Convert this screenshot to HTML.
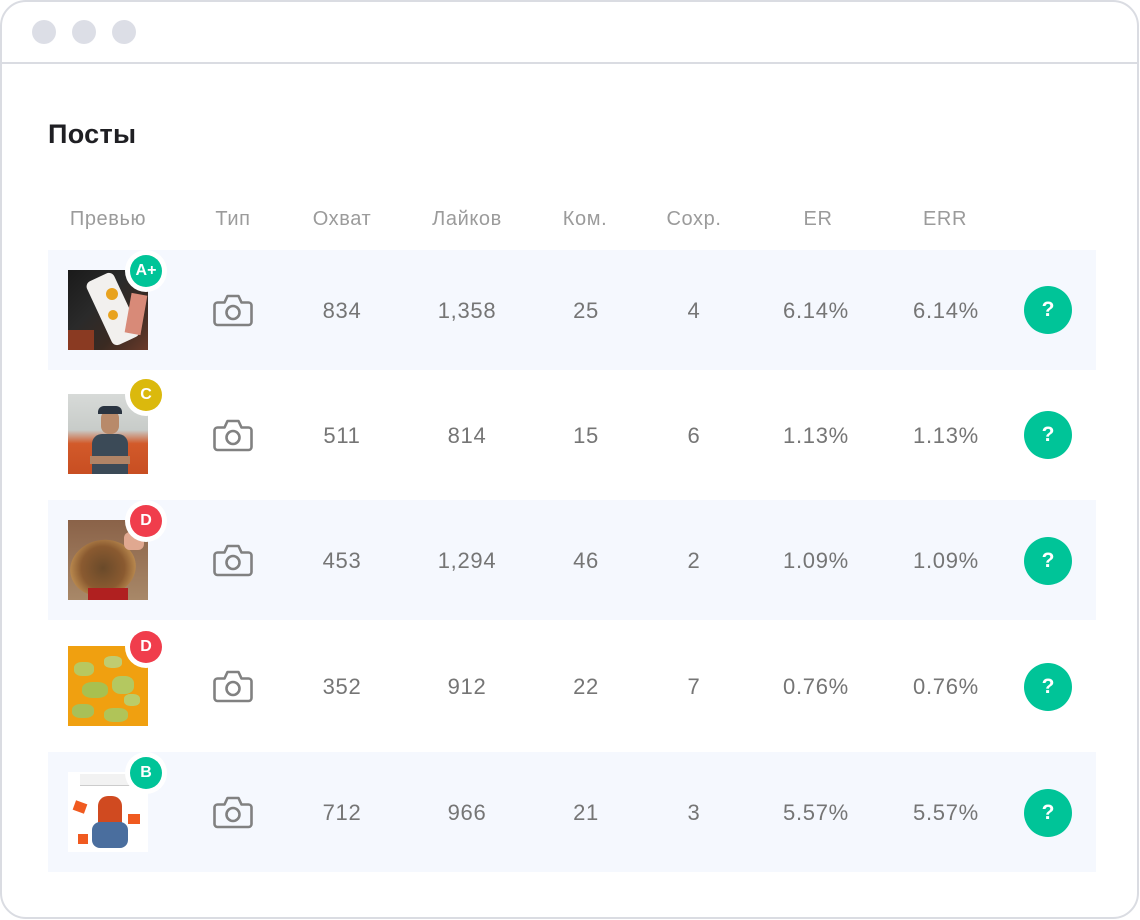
<!DOCTYPE html>
<html><head><meta charset="utf-8">
<style>
*{margin:0;padding:0;box-sizing:border-box}
html,body{width:1140px;height:920px;background:#fff;overflow:hidden}
body{position:relative;font-family:"Liberation Sans","DejaVu Sans",sans-serif}
.win{position:absolute;left:0;top:0;width:1139px;height:919px;border:2px solid #dadce2;border-radius:26px;background:#fff}
.bar{position:absolute;left:1px;top:62px;width:1137px;height:2px;background:#dadce2}
.dot{position:absolute;top:20px;width:24px;height:24px;border-radius:50%;background:#dcdee6}
.title{position:absolute;left:48px;top:116px;font-size:27px;font-weight:bold;color:#1f1f23;line-height:36px;letter-spacing:0.3px}
.h{position:absolute;top:207px;font-size:20px;color:#9b9b9b;line-height:24px;transform:translateX(-50%);white-space:nowrap;letter-spacing:0.6px}
.row{position:absolute;left:48px;width:1048px;background:#f5f8fe}
.t{position:absolute;font-size:22px;color:#757575;line-height:26px;transform:translate(-50%,-50%);white-space:nowrap;letter-spacing:0.7px}
.thumb{position:absolute;left:68px;width:80px;height:80px;overflow:hidden}
.badge{position:absolute;width:42px;height:42px;border-radius:50%;background:#fff;transform:translate(-50%,-50%)}
.badge span{position:absolute;left:5px;top:5px;width:32px;height:32px;border-radius:50%;color:#fff;font-weight:bold;font-size:16px;line-height:32px;text-align:center}
.cam{position:absolute;left:213px;width:40px;height:34px}
.q{position:absolute;left:1024px;width:48px;height:48px;border-radius:50%;background:#00c498;color:#fff;font-weight:bold;font-size:21px;line-height:48px;text-align:center}
</style></head><body>
<div class="win"></div>
<div class="bar"></div>
<div class="dot" style="left:32px"></div>
<div class="dot" style="left:72px"></div>
<div class="dot" style="left:112px"></div>
<div class="title">Посты</div>

<div class="h" style="left:108px">Превью</div>
<div class="h" style="left:233px">Тип</div>
<div class="h" style="left:342px">Охват</div>
<div class="h" style="left:467px">Лайков</div>
<div class="h" style="left:585px">Ком.</div>
<div class="h" style="left:694px">Сохр.</div>
<div class="h" style="left:818px">ER</div>
<div class="h" style="left:945px">ERR</div>

<div class="row" style="top:250px;height:120px"></div>
<div class="row" style="top:500px;height:120px"></div>
<div class="row" style="top:752px;height:120px"></div>

<!-- thumbnails -->
<div class="thumb" style="top:270px;background:linear-gradient(135deg,#1a1a1a 0%,#2a2a2a 40%,#3a2a22 70%,#6a3a2a 100%)">
  <div style="position:absolute;left:30px;top:4px;width:30px;height:70px;background:#f2f0ee;transform:rotate(-25deg);border-radius:6px"></div>
  <div style="position:absolute;left:38px;top:18px;width:12px;height:12px;background:#e8a21e;border-radius:50%"></div>
  <div style="position:absolute;left:40px;top:40px;width:10px;height:10px;background:#e8a21e;border-radius:50%"></div>
  <div style="position:absolute;left:60px;top:24px;width:16px;height:40px;background:#d88a78;transform:rotate(10deg)"></div>
  <div style="position:absolute;left:0;top:60px;width:26px;height:20px;background:#8a3a22"></div>
</div>
<div class="thumb" style="top:394px;background:linear-gradient(180deg,#d7dad8 0%,#c8ccc9 45%,#d25a2a 62%,#c84e22 100%)">
  <div style="position:absolute;left:24px;top:40px;width:36px;height:40px;background:#3b4a57;border-radius:10px 10px 0 0"></div>
  <div style="position:absolute;left:33px;top:16px;width:18px;height:24px;background:#b88a6a;border-radius:8px"></div>
  <div style="position:absolute;left:30px;top:12px;width:24px;height:8px;background:#2a3440;border-radius:6px 6px 0 0"></div>
  <div style="position:absolute;left:22px;top:62px;width:40px;height:8px;background:#b08466"></div>
</div>
<div class="thumb" style="top:520px;background:linear-gradient(180deg,#8a6248 0%,#a88868 100%)">
  <div style="position:absolute;left:2px;top:20px;width:66px;height:56px;border-radius:50%;background:radial-gradient(circle,#6a4a2a 0%,#8a5a30 50%,#c89858 85%,#d8b070 100%);transform:rotate(-12deg)"></div>
  <div style="position:absolute;left:56px;top:12px;width:20px;height:18px;background:#e0a890;border-radius:6px"></div>
  <div style="position:absolute;left:20px;top:68px;width:40px;height:12px;background:#b02020"></div>
</div>
<div class="thumb" style="top:646px;background:#f0a010">
  <div style="position:absolute;left:6px;top:16px;width:20px;height:14px;background:#b8c860;border-radius:40%"></div>
  <div style="position:absolute;left:36px;top:10px;width:18px;height:12px;background:#c0cc70;border-radius:40%"></div>
  <div style="position:absolute;left:14px;top:36px;width:26px;height:16px;background:#a8c050;border-radius:40%"></div>
  <div style="position:absolute;left:44px;top:30px;width:22px;height:18px;background:#b4c860;border-radius:40%"></div>
  <div style="position:absolute;left:4px;top:58px;width:22px;height:14px;background:#a8c058;border-radius:40%"></div>
  <div style="position:absolute;left:36px;top:62px;width:24px;height:14px;background:#b0c458;border-radius:40%"></div>
  <div style="position:absolute;left:56px;top:48px;width:16px;height:12px;background:#bccc68;border-radius:40%"></div>
</div>
<div class="thumb" style="top:772px;background:#fff">
  <div style="position:absolute;left:12px;top:2px;width:56px;height:12px;background:#f2f2f2;border-bottom:1px solid #ccc"></div>
  <div style="position:absolute;left:30px;top:24px;width:24px;height:30px;background:#d04a20;border-radius:10px 10px 4px 4px"></div>
  <div style="position:absolute;left:24px;top:50px;width:36px;height:26px;background:#4a6e9e;border-radius:8px"></div>
  <div style="position:absolute;left:6px;top:30px;width:12px;height:10px;background:#f05a20;transform:rotate(20deg)"></div>
  <div style="position:absolute;left:60px;top:42px;width:12px;height:10px;background:#f05a20"></div>
  <div style="position:absolute;left:10px;top:62px;width:10px;height:10px;background:#f05a20"></div>
</div>

<!-- badges -->
<div class="badge" style="left:146px;top:271px"><span style="background:#00c498">A+</span></div>
<div class="badge" style="left:146px;top:395px"><span style="background:#dbb90d">C</span></div>
<div class="badge" style="left:146px;top:521px"><span style="background:#f03d4c">D</span></div>
<div class="badge" style="left:146px;top:647px"><span style="background:#f03d4c">D</span></div>
<div class="badge" style="left:146px;top:773px"><span style="background:#00c498">B</span></div>

<!-- cameras -->
<svg class="cam" style="top:293px" viewBox="0 0 40 34"><path d="M4.5 9.5h7l3-6.5h11l3 6.5h7a3 3 0 0 1 3 3v16.5a3 3 0 0 1-3 3h-31a3 3 0 0 1-3-3v-16.5a3 3 0 0 1 3-3z" fill="none" stroke="#818181" stroke-width="2.6" stroke-linejoin="round"/><circle cx="20" cy="19.5" r="6.5" fill="none" stroke="#818181" stroke-width="2.6"/></svg>
<svg class="cam" style="top:418px" viewBox="0 0 40 34"><path d="M4.5 9.5h7l3-6.5h11l3 6.5h7a3 3 0 0 1 3 3v16.5a3 3 0 0 1-3 3h-31a3 3 0 0 1-3-3v-16.5a3 3 0 0 1 3-3z" fill="none" stroke="#818181" stroke-width="2.6" stroke-linejoin="round"/><circle cx="20" cy="19.5" r="6.5" fill="none" stroke="#818181" stroke-width="2.6"/></svg>
<svg class="cam" style="top:543px" viewBox="0 0 40 34"><path d="M4.5 9.5h7l3-6.5h11l3 6.5h7a3 3 0 0 1 3 3v16.5a3 3 0 0 1-3 3h-31a3 3 0 0 1-3-3v-16.5a3 3 0 0 1 3-3z" fill="none" stroke="#818181" stroke-width="2.6" stroke-linejoin="round"/><circle cx="20" cy="19.5" r="6.5" fill="none" stroke="#818181" stroke-width="2.6"/></svg>
<svg class="cam" style="top:669px" viewBox="0 0 40 34"><path d="M4.5 9.5h7l3-6.5h11l3 6.5h7a3 3 0 0 1 3 3v16.5a3 3 0 0 1-3 3h-31a3 3 0 0 1-3-3v-16.5a3 3 0 0 1 3-3z" fill="none" stroke="#818181" stroke-width="2.6" stroke-linejoin="round"/><circle cx="20" cy="19.5" r="6.5" fill="none" stroke="#818181" stroke-width="2.6"/></svg>
<svg class="cam" style="top:795px" viewBox="0 0 40 34"><path d="M4.5 9.5h7l3-6.5h11l3 6.5h7a3 3 0 0 1 3 3v16.5a3 3 0 0 1-3 3h-31a3 3 0 0 1-3-3v-16.5a3 3 0 0 1 3-3z" fill="none" stroke="#818181" stroke-width="2.6" stroke-linejoin="round"/><circle cx="20" cy="19.5" r="6.5" fill="none" stroke="#818181" stroke-width="2.6"/></svg>

<!-- row 1 -->
<div class="t" style="left:342px;top:311px">834</div>
<div class="t" style="left:467px;top:311px">1,358</div>
<div class="t" style="left:586px;top:311px">25</div>
<div class="t" style="left:694px;top:311px">4</div>
<div class="t" style="left:816px;top:311px">6.14%</div>
<div class="t" style="left:946px;top:311px">6.14%</div>
<!-- row 2 -->
<div class="t" style="left:342px;top:436px">511</div>
<div class="t" style="left:467px;top:436px">814</div>
<div class="t" style="left:586px;top:436px">15</div>
<div class="t" style="left:694px;top:436px">6</div>
<div class="t" style="left:816px;top:436px">1.13%</div>
<div class="t" style="left:946px;top:436px">1.13%</div>
<!-- row 3 -->
<div class="t" style="left:342px;top:561px">453</div>
<div class="t" style="left:467px;top:561px">1,294</div>
<div class="t" style="left:586px;top:561px">46</div>
<div class="t" style="left:694px;top:561px">2</div>
<div class="t" style="left:816px;top:561px">1.09%</div>
<div class="t" style="left:946px;top:561px">1.09%</div>
<!-- row 4 -->
<div class="t" style="left:342px;top:687px">352</div>
<div class="t" style="left:467px;top:687px">912</div>
<div class="t" style="left:586px;top:687px">22</div>
<div class="t" style="left:694px;top:687px">7</div>
<div class="t" style="left:816px;top:687px">0.76%</div>
<div class="t" style="left:946px;top:687px">0.76%</div>
<!-- row 5 -->
<div class="t" style="left:342px;top:813px">712</div>
<div class="t" style="left:467px;top:813px">966</div>
<div class="t" style="left:586px;top:813px">21</div>
<div class="t" style="left:694px;top:813px">3</div>
<div class="t" style="left:816px;top:813px">5.57%</div>
<div class="t" style="left:946px;top:813px">5.57%</div>

<!-- question buttons -->
<div class="q" style="top:286px">?</div>
<div class="q" style="top:411px">?</div>
<div class="q" style="top:537px">?</div>
<div class="q" style="top:663px">?</div>
<div class="q" style="top:789px">?</div>
</body></html>
